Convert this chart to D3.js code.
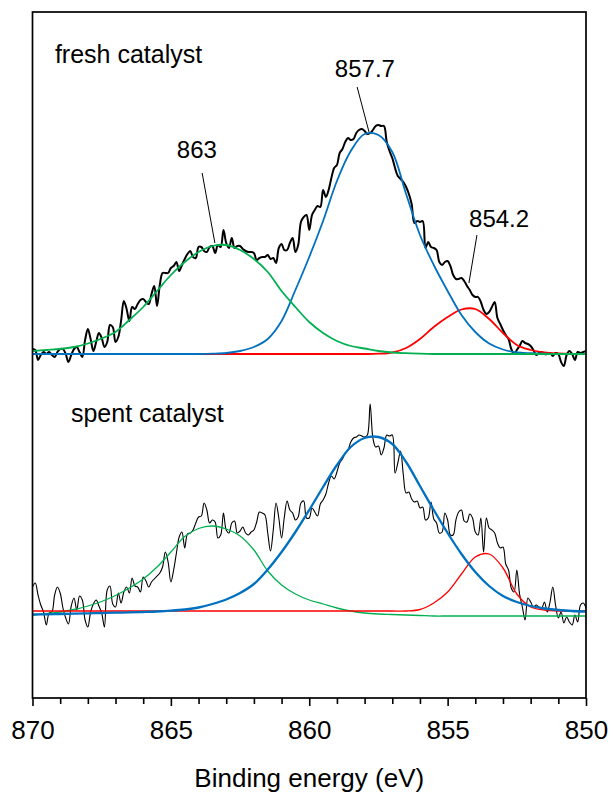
<!DOCTYPE html>
<html>
<head>
<meta charset="utf-8">
<script src="https://cdn.jsdelivr.net/npm/d3@7"></script>
<style>
  body { margin: 0; background: #fff; }
  text { font-family: Arial, "Liberation Sans", sans-serif; fill: #000; }
</style>
</head>
<body>
<div id="chart"></div>
<script>
//
// XPS Ni 2p3/2 region, fresh vs spent catalyst
//

// energy grid of the raw spectra (eV), 0.1 eV steps from 870 down to 850
var rawStart = 870, rawEnd = 850, rawStep = 0.1;
// energy grid of the fitted components, 0.5 eV steps
var fitStep = 0.5;

// raw spectra (counts, arbitrary units), 870.0 -> 850.0
var freshRaw = [
  349, 348, 338, 343, 346, 344, 346, 343, 341, 346,
  349, 349, 344, 336, 343, 349, 351, 346, 341, 358,
  369, 359, 347, 356, 365, 360, 351, 356, 373, 371,
  356, 361, 377, 397, 389, 377, 391, 389, 394, 398,
  399, 396, 394, 404, 412, 392, 413, 425, 425, 425,
  430, 432, 436, 427, 433, 439, 444, 447, 441, 440,
  451, 451, 447, 446, 451, 452, 445, 453, 451, 468,
  455, 450, 460, 450, 452, 452, 449, 447, 446, 446,
  445, 438, 440, 441, 441, 443, 439, 440, 435, 450,
  454, 448, 448, 455, 460, 446, 453, 476, 481, 483,
  468, 483, 488, 492, 491, 508, 501, 508, 520, 530,
  533, 545, 549, 556, 560, 558, 559, 565, 568, 569,
  567, 564, 565, 568, 572, 573, 572, 572, 556, 547,
  540, 530, 522, 519, 516, 511, 504, 494, 475, 477,
  476, 477, 450, 456, 451, 450, 448, 436, 433, 436,
  437, 432, 423, 419, 419, 420, 417, 412, 408, 403,
  401, 401, 396, 388, 384, 386, 391, 396, 380, 374,
  368, 363, 359, 349, 344, 348, 352, 357, 355, 354,
  352, 348, 343, 345, 346, 344, 344, 345, 342, 345,
  344, 336, 332, 343, 347, 344, 338, 346, 345, 346,
  347
];

var spentRaw = [
  111, 115, 103, 93, 86, 73, 85, 86, 103, 111,
  105, 90, 80, 74, 92, 100, 88, 102, 98, 78,
  71, 86, 94, 98, 92, 85, 71, 108, 112, 94,
  91, 105, 95, 106, 111, 105, 120, 112, 111, 106,
  121, 117, 111, 116, 119, 122, 125, 131, 146, 136,
  116, 128, 145, 161, 166, 150, 164, 165, 168, 175,
  181, 182, 195, 188, 175, 178, 176, 160, 163, 185,
  168, 165, 175, 177, 165, 167, 171, 165, 163, 166,
  168, 176, 186, 185, 183, 165, 147, 168, 195, 180,
  160, 181, 197, 188, 185, 178, 181, 195, 197, 180,
  180, 190, 186, 182, 194, 198, 204, 215, 222, 219,
  226, 235, 239, 245, 248, 256, 260, 261, 263, 262,
  261, 263, 294, 260, 251, 252, 243, 250, 263, 262,
  263, 225, 235, 247, 223, 205, 206, 199, 196, 197,
  190, 191, 178, 180, 196, 179, 175, 165, 166, 185,
  178, 163, 163, 178, 186, 188, 177, 176, 184, 180,
  166, 163, 180, 146, 180, 170, 168, 165, 155, 150,
  151, 134, 128, 110, 106, 128, 104, 91, 78, 100,
  96, 91, 93, 91, 90, 96, 86, 96, 111, 93,
  80, 86, 75, 81, 76, 73, 83, 76, 93, 95,
  90
];

// fitted components, 870.0 -> 850.0 in 0.5 eV steps
var freshGreen = [
  347, 348, 349, 351, 354.5, 359.5, 366, 378, 391, 407,
  423, 436, 446, 452, 453, 448, 439, 426, 407, 391,
  376, 365, 357, 352, 349.5, 347, 345.5, 344.8, 344.3, 344,
  344, 344, 344, 344, 344, 344, 344, 344, 344, 344,
  344
];
var freshBlue = [
  344, 344, 344, 344, 344, 344, 344, 344, 344, 344,
  344, 344, 344, 344.3, 345, 347, 351, 359, 377, 408,
  441, 477, 517, 547, 564, 563, 546, 504, 463, 433,
  407, 383, 366, 354.5, 348.5, 345.5, 344.8, 344.3, 344, 344,
  344
];
var freshRed = [
  344, 344, 344, 344, 344, 344, 344, 344, 344, 344,
  344, 344, 344, 344, 344, 344, 344, 344, 344, 344,
  344, 344, 344, 344, 344, 344.3, 345.5, 350, 359, 371,
  381, 388.5, 389, 379, 365, 353, 348, 345.5, 344.5, 344,
  344
];
var spentGreen = [
  83, 84.5, 86, 88.5, 92, 96.5, 102.5, 110, 119, 131,
  146, 161.5, 169.5, 172, 169, 162, 148, 127, 113, 104,
  98, 94, 90, 87, 85, 84, 83.5, 83, 82.5, 82,
  82, 82, 82, 82, 82, 82, 82, 82, 82, 82,
  82
];
var spentBlue = [
  83.5, 83.7, 84, 84.3, 84.6, 85, 85.3, 85.6, 86, 86.5,
  87.3, 88.5, 90.5, 94, 98.5, 105, 114, 128.5, 146, 166,
  188, 211, 233, 251, 260, 261, 254, 236, 212, 188,
  165, 144, 126, 112, 102, 96, 92, 89.5, 88, 87,
  86.5
];
var spentRed = [
  87, 87, 87, 87, 87, 87, 87, 87, 87, 87,
  87, 87, 87, 87, 87, 87, 87, 87, 87, 87,
  87, 87, 87, 87, 87, 87, 87, 87, 88.5, 95,
  106, 124, 141, 144, 130, 104, 91, 88, 87, 87,
  87
];

var majorTicks = [870, 865, 860, 855, 850];
var minorTicks = [869, 868, 867, 866, 864, 863, 862, 861, 859, 858, 857, 856, 854, 853, 852, 851];

// peak labels: text position and leader line (eV, counts)
var peakLabels = ["863", "857.7", "854.2"];
var peakTextE = [864.06, 857.99, 853.14];
var peakTextI = [540, 621, 471];
var peakLineE = [[863.87, 863.41], [858.27, 857.84], [853.94, 854.23]];
var peakLineI = [[525, 455], [611, 566], [463, 415]];

var panelLabels = ["fresh catalyst", "spent catalyst"];
var panelLabelE = [869.19, 868.61];
var panelLabelI = [635, 276];

var colGreen = "#00b050", colBlue = "#0070c0", colRed = "#ff0000";

var width = 613, height = 796;
var margin = { left: 32.5, top: 12, right: 27, bottom: 98 };
var plotW = width - margin.left - margin.right;
var plotH = height - margin.top - margin.bottom;

var svg = d3.select("#chart")
    .append("svg")
    .attr("width", width)
    .attr("height", height);

var x = d3.scaleLinear().domain([870, 850]).range([margin.left, margin.left + plotW]);
var y = d3.scaleLinear().domain([0, 686]).range([margin.top + plotH, margin.top]);

function grid(step, n) {
    var e = [];
    for (var i = 0; i < n; i++) e.push(+(rawStart - i * step).toFixed(2));
    return e;
}
var rawE = grid(rawStep, freshRaw.length);
var fitE = grid(fitStep, freshGreen.length);

function toPts(energies, vals) {
    return vals.map(function (v, i) { return [energies[i], v]; });
}

var rawLine = d3.line()
    .x(function (d) { return x(d[0]); })
    .y(function (d) { return y(d[1]); })
    .curve(d3.curveCatmullRom.alpha(0.5));

var fitLine = d3.line()
    .x(function (d) { return x(d[0]); })
    .y(function (d) { return y(d[1]); })
    .curve(d3.curveCatmullRom.alpha(0.5));

var plot = svg.append("g");

function drawPath(pts, gen, color, w) {
    plot.append("path")
        .datum(pts)
        .attr("d", gen)
        .attr("fill", "none")
        .attr("stroke", color)
        .attr("stroke-width", w)
        .attr("stroke-linejoin", "round");
}

// fresh catalyst
drawPath(toPts(rawE, freshRaw), rawLine, "#000", 2);
drawPath(toPts(fitE, freshRed), fitLine, colRed, 1.8);
drawPath(toPts(fitE, freshBlue), fitLine, colBlue, 1.8);
drawPath(toPts(fitE, freshGreen), fitLine, colGreen, 1.8);

// spent catalyst
drawPath(toPts(rawE, spentRaw), rawLine, "#000", 1.1);
drawPath(toPts(fitE, spentGreen), fitLine, colGreen, 1.3);
drawPath(toPts(fitE, spentRed), fitLine, colRed, 1.3);
drawPath(toPts(fitE, spentBlue), fitLine, colBlue, 2.3);

// peak labels
peakLabels.forEach(function (t, i) {
    plot.append("line")
        .attr("x1", x(peakLineE[i][0])).attr("y1", y(peakLineI[i][0]))
        .attr("x2", x(peakLineE[i][1])).attr("y2", y(peakLineI[i][1]))
        .attr("stroke", "#000")
        .attr("stroke-width", 1);
    plot.append("text")
        .attr("x", x(peakTextE[i]))
        .attr("y", y(peakTextI[i]))
        .attr("text-anchor", "middle")
        .style("font-size", "24px")
        .text(t);
});

panelLabels.forEach(function (t, i) {
    plot.append("text")
        .attr("x", x(panelLabelE[i]))
        .attr("y", y(panelLabelI[i]))
        .style("font-size", "25px")
        .text(t);
});

// frame
svg.append("rect")
    .attr("x", margin.left)
    .attr("y", margin.top)
    .attr("width", plotW)
    .attr("height", plotH)
    .attr("fill", "none")
    .attr("stroke", "#000")
    .attr("stroke-width", 1.7);

// x axis
var axisY = margin.top + plotH;
var minorAxis = svg.append("g")
    .attr("transform", "translate(0," + axisY + ")")
    .call(d3.axisBottom(x).tickValues(minorTicks).tickSize(6).tickFormat(""));
var majorAxis = svg.append("g")
    .attr("transform", "translate(0," + axisY + ")")
    .call(d3.axisBottom(x).tickValues(majorTicks).tickSize(8).tickPadding(15).tickFormat(d3.format("d")));

[minorAxis, majorAxis].forEach(function (a) {
    a.select(".domain").remove();
    a.selectAll(".tick line").attr("stroke", "#000").attr("stroke-width", 1.6);
});
majorAxis.selectAll(".tick text")
    .style("font-size", "26px")
    .style("font-family", "Arial, 'Liberation Sans', sans-serif")
    .attr("fill", "#000");

svg.append("text")
    .attr("x", margin.left + plotW / 2)
    .attr("y", 787)
    .attr("text-anchor", "middle")
    .style("font-size", "26px")
    .text("Binding energy (eV)");
</script>
</body>
</html>
